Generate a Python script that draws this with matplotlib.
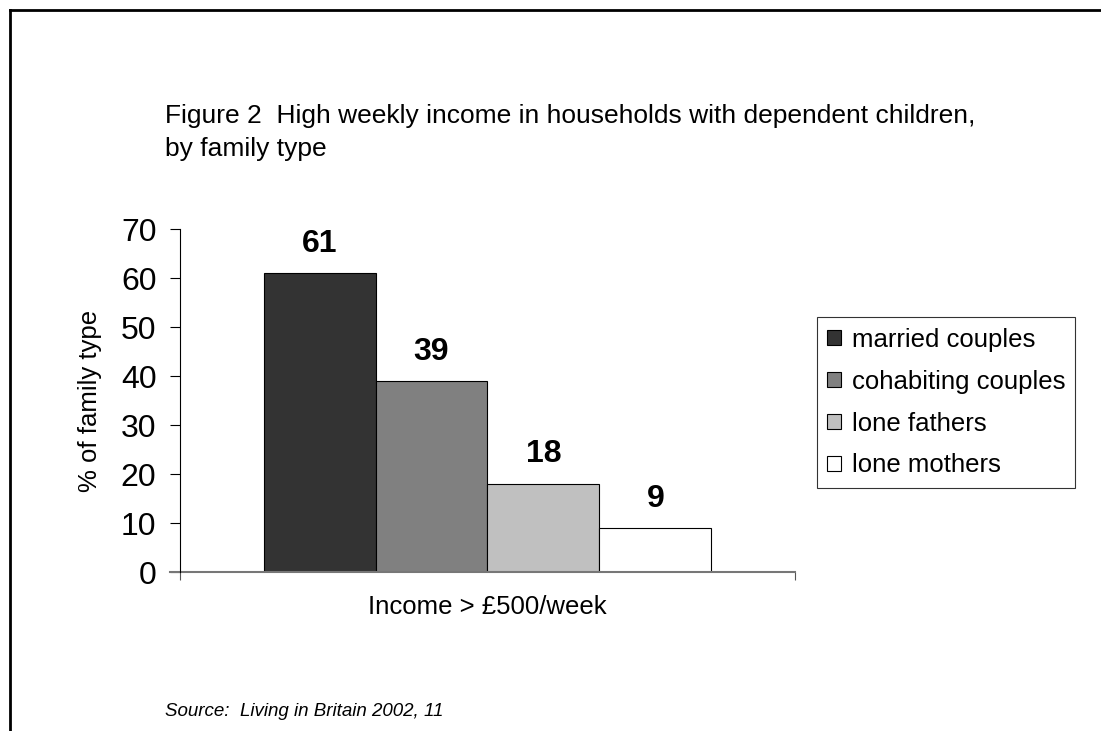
import matplotlib
matplotlib.use("Agg")
import matplotlib.pyplot as plt
import numpy as np
from matplotlib.lines import Line2D

plt.rcParams['font.family'] = ['Liberation Sans', 'DejaVu Sans']

# data
category = "Income > £500/week"
family_types = ["married couples", "cohabiting couples", "lone fathers", "lone mothers"]
values = [61, 39, 18, 9]
bar_colors = ["#333333", "#808080", "#c0c0c0", "#ffffff"]
yticks = [0, 10, 20, 30, 40, 50, 60, 70]

fig = plt.figure(figsize=(11.01, 7.31), dpi=100)
ax = fig.add_axes([0.1635, 0.2175, 0.5585, 0.4692])

width = 0.182
n = len(values)
for i, (lab, v, c) in enumerate(zip(family_types, values, bar_colors)):
    x = (i - (n - 1) / 2) * width
    ax.bar(x, v, width=width, color=c, edgecolor="black", linewidth=0.8, label=lab)
    ax.text(x, v + 6, str(v), ha="center", va="center", fontsize=23, fontweight="bold")

ax.set_xlim(-0.5, 0.5)
ax.set_ylim(0, 70)
ax.set_yticks(yticks)
ax.tick_params(axis="y", direction="out", length=7, width=0.8, labelsize=23, pad=10)
ax.set_xticks([-0.5, 0.5])
ax.set_xticklabels(["", ""])
ax.tick_params(axis="x", direction="out", length=6, width=0.8, color="#555555")
for s in ["top", "right", "bottom"]:
    ax.spines[s].set_visible(False)
ax.spines["left"].set_linewidth(0.8)
ax.spines["left"].set_bounds(0, 70)
ax.plot([-0.016, 1], [0, 0], transform=ax.transAxes, color="#777777", lw=1.5, clip_on=False)

ax.set_xlabel(category, fontsize=18.5, va="center")
ax.xaxis.set_label_coords(0.5, -0.102)
ax.set_ylabel("% of family type", fontsize=18.5, va="center")
ax.yaxis.set_label_coords(-0.147, 0.5)

leg = fig.legend(loc="upper left", bbox_to_anchor=(0.742, 0.566), frameon=True, fancybox=False,
                 fontsize=18.5, handlelength=0.55, handleheight=0.55, handletextpad=0.4,
                 labelspacing=0.7, borderpad=0.4, borderaxespad=0, edgecolor="black")
leg.get_frame().set_linewidth(0.8)

fig.text(0.15, 0.841, "Figure 2  High weekly income in households with dependent children,",
         fontsize=19, ha="left", va="center")
fig.text(0.15, 0.796, "by family type", fontsize=19, ha="left", va="center")
fig.text(0.15, 0.026, "Source:  Living in Britain 2002, 11", fontsize=13.5, style="italic",
         ha="left", va="center")

# page frame (top and left edge)
fig.add_artist(Line2D([0.0095, 1.0], [0.987, 0.987], color="black", lw=2, transform=fig.transFigure))
fig.add_artist(Line2D([0.0095, 0.0095], [0.0, 0.987], color="black", lw=2, transform=fig.transFigure))

fig.savefig("out.png", dpi=100)
